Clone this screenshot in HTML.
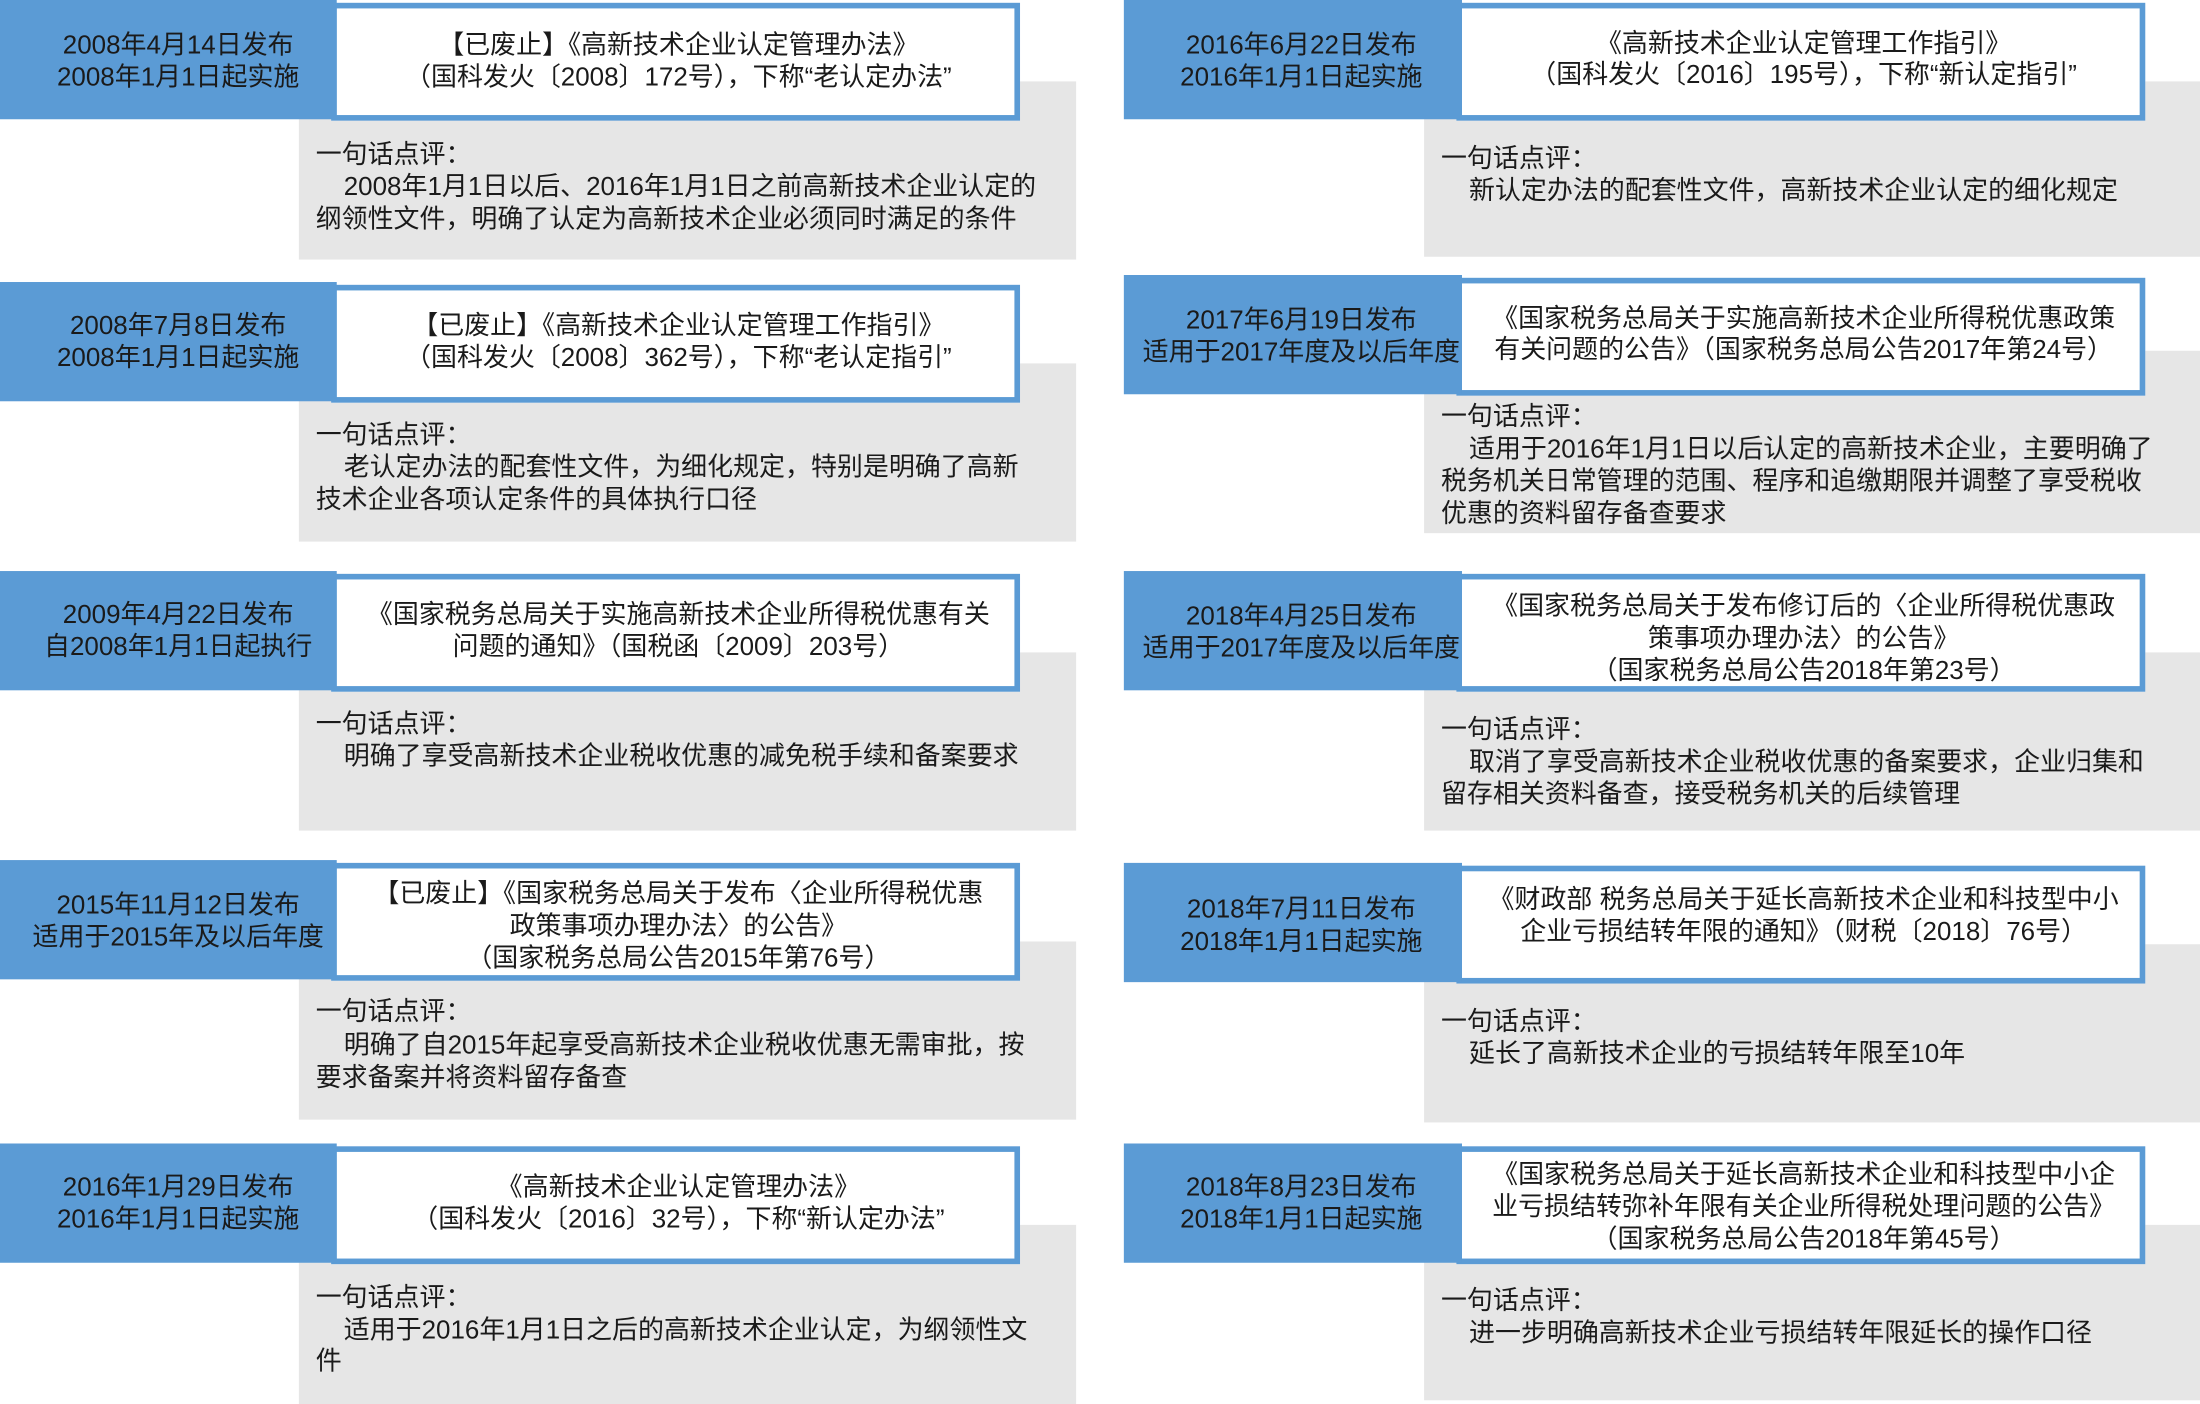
<!DOCTYPE html>
<html><head><meta charset="utf-8"><style>
html,body{margin:0;padding:0;background:#fff;width:2200px;height:1404px;overflow:hidden}
#s{position:absolute;left:0;top:0;width:1568px;height:1001px;transform:scale(1.40306);transform-origin:0 0;font-family:"Liberation Sans","Noto Sans CJK SC",sans-serif;color:#1a1a1a}
.b{position:absolute;background:#5b9bd5}
.g{position:absolute;background:#e6e6e6}
.w{position:absolute;background:#fff;border:4px solid #5b9bd5;box-sizing:border-box}
.t{position:absolute;white-space:nowrap;line-height:23px;height:23px;font-size:18.5px}
.cl{left:7px;width:240px;text-align:center}
.cr{left:807px;width:241px;text-align:center}
.tl{left:240px;width:487px;text-align:center}
.tr{left:1042px;width:487px;text-align:center}
.ml{left:225px}.mli{left:245px}
.mr{left:1027px}.mri{left:1047px}
</style></head><body><div id="s">
<!-- L1 -->
<div class="g" style="left:213px;top:58px;width:554px;height:127px"></div>
<div class="w" style="left:236px;top:2px;width:491px;height:84px"></div>
<div class="b" style="left:0;top:0;width:240px;height:85px"></div>
<div class="t cl" style="top:20px">2008年4月14日发布</div>
<div class="t cl" style="top:43px">2008年1月1日起实施</div>
<div class="t tl" style="top:20px">【已废止】《高新技术企业认定管理办法》</div>
<div class="t tl" style="top:43px">（国科发火〔2008〕172号），下称“老认定办法”</div>
<div class="t ml" style="top:98px">一句话点评：</div>
<div class="t mli" style="top:121px">2008年1月1日以后、2016年1月1日之前高新技术企业认定的</div>
<div class="t ml" style="top:144px">纲领性文件，明确了认定为高新技术企业必须同时满足的条件</div>
<!-- L2 -->
<div class="g" style="left:213px;top:259px;width:554px;height:127px"></div>
<div class="w" style="left:236px;top:203px;width:491px;height:84px"></div>
<div class="b" style="left:0;top:201px;width:240px;height:85px"></div>
<div class="t cl" style="top:220px">2008年7月8日发布</div>
<div class="t cl" style="top:243px">2008年1月1日起实施</div>
<div class="t tl" style="top:220px">【已废止】《高新技术企业认定管理工作指引》</div>
<div class="t tl" style="top:243px">（国科发火〔2008〕362号），下称“老认定指引”</div>
<div class="t ml" style="top:298px">一句话点评：</div>
<div class="t mli" style="top:321px">老认定办法的配套性文件，为细化规定，特别是明确了高新</div>
<div class="t ml" style="top:344px">技术企业各项认定条件的具体执行口径</div>
<!-- L3 -->
<div class="g" style="left:213px;top:465px;width:554px;height:127px"></div>
<div class="w" style="left:236px;top:409px;width:491px;height:84px"></div>
<div class="b" style="left:0;top:407px;width:240px;height:85px"></div>
<div class="t cl" style="top:426px">2009年4月22日发布</div>
<div class="t cl" style="top:449px">自2008年1月1日起执行</div>
<div class="t tl" style="top:426px">《国家税务总局关于实施高新技术企业所得税优惠有关</div>
<div class="t tl" style="top:449px">问题的通知》（国税函〔2009〕203号）</div>
<div class="t ml" style="top:504px">一句话点评：</div>
<div class="t mli" style="top:527px">明确了享受高新技术企业税收优惠的减免税手续和备案要求</div>
<!-- L4 -->
<div class="g" style="left:213px;top:671px;width:554px;height:127px"></div>
<div class="w" style="left:236px;top:615px;width:491px;height:84px"></div>
<div class="b" style="left:0;top:613px;width:240px;height:85px"></div>
<div class="t cl" style="top:633px">2015年11月12日发布</div>
<div class="t cl" style="top:656px">适用于2015年及以后年度</div>
<div class="t tl" style="top:625px">【已废止】《国家税务总局关于发布〈企业所得税优惠</div>
<div class="t tl" style="top:648px">政策事项办理办法〉的公告》</div>
<div class="t tl" style="top:671px">（国家税务总局公告2015年第76号）</div>
<div class="t ml" style="top:709px">一句话点评：</div>
<div class="t mli" style="top:733px">明确了自2015年起享受高新技术企业税收优惠无需审批，按</div>
<div class="t ml" style="top:756px">要求备案并将资料留存备查</div>
<!-- L5 -->
<div class="g" style="left:213px;top:873px;width:554px;height:128px"></div>
<div class="w" style="left:236px;top:817px;width:491px;height:84px"></div>
<div class="b" style="left:0;top:815px;width:240px;height:85px"></div>
<div class="t cl" style="top:834px">2016年1月29日发布</div>
<div class="t cl" style="top:857px">2016年1月1日起实施</div>
<div class="t tl" style="top:834px">《高新技术企业认定管理办法》</div>
<div class="t tl" style="top:857px">（国科发火〔2016〕32号），下称“新认定办法”</div>
<div class="t ml" style="top:913px">一句话点评：</div>
<div class="t mli" style="top:936px">适用于2016年1月1日之后的高新技术企业认定，为纲领性文</div>
<div class="t ml" style="top:958px">件</div>
<!-- R1 -->
<div class="g" style="left:1015px;top:58px;width:553px;height:125px"></div>
<div class="w" style="left:1038px;top:2px;width:491px;height:84px"></div>
<div class="b" style="left:801px;top:0;width:241px;height:85px"></div>
<div class="t cr" style="top:20px">2016年6月22日发布</div>
<div class="t cr" style="top:43px">2016年1月1日起实施</div>
<div class="t tr" style="top:19px">《高新技术企业认定管理工作指引》</div>
<div class="t tr" style="top:41px">（国科发火〔2016〕195号），下称“新认定指引”</div>
<div class="t mr" style="top:101px">一句话点评：</div>
<div class="t mri" style="top:124px">新认定办法的配套性文件，高新技术企业认定的细化规定</div>
<!-- R2 -->
<div class="g" style="left:1015px;top:250px;width:553px;height:130px"></div>
<div class="w" style="left:1038px;top:198px;width:491px;height:84px"></div>
<div class="b" style="left:801px;top:196px;width:241px;height:85px"></div>
<div class="t cr" style="top:216px">2017年6月19日发布</div>
<div class="t cr" style="top:239px">适用于2017年度及以后年度</div>
<div class="t tr" style="top:215px">《国家税务总局关于实施高新技术企业所得税优惠政策</div>
<div class="t tr" style="top:237px">有关问题的公告》（国家税务总局公告2017年第24号）</div>
<div class="t mr" style="top:285px">一句话点评：</div>
<div class="t mri" style="top:308px">适用于2016年1月1日以后认定的高新技术企业，主要明确了</div>
<div class="t mr" style="top:331px">税务机关日常管理的范围、程序和追缴期限并调整了享受税收</div>
<div class="t mr" style="top:354px">优惠的资料留存备查要求</div>
<!-- R3 -->
<div class="g" style="left:1015px;top:465px;width:553px;height:127px"></div>
<div class="w" style="left:1038px;top:409px;width:491px;height:84px"></div>
<div class="b" style="left:801px;top:407px;width:241px;height:85px"></div>
<div class="t cr" style="top:427px">2018年4月25日发布</div>
<div class="t cr" style="top:450px">适用于2017年度及以后年度</div>
<div class="t tr" style="top:420px">《国家税务总局关于发布修订后的〈企业所得税优惠政</div>
<div class="t tr" style="top:443px">策事项办理办法〉的公告》</div>
<div class="t tr" style="top:466px">（国家税务总局公告2018年第23号）</div>
<div class="t mr" style="top:508px">一句话点评：</div>
<div class="t mri" style="top:531px">取消了享受高新技术企业税收优惠的备案要求，企业归集和</div>
<div class="t mr" style="top:554px">留存相关资料备查，接受税务机关的后续管理</div>
<!-- R4 -->
<div class="g" style="left:1015px;top:673px;width:553px;height:127px"></div>
<div class="w" style="left:1038px;top:617px;width:491px;height:84px"></div>
<div class="b" style="left:801px;top:615px;width:241px;height:85px"></div>
<div class="t cr" style="top:636px">2018年7月11日发布</div>
<div class="t cr" style="top:659px">2018年1月1日起实施</div>
<div class="t tr" style="top:629px">《财政部 税务总局关于延长高新技术企业和科技型中小</div>
<div class="t tr" style="top:652px">企业亏损结转年限的通知》（财税〔2018〕76号）</div>
<div class="t mr" style="top:716px">一句话点评：</div>
<div class="t mri" style="top:739px">延长了高新技术企业的亏损结转年限至10年</div>
<!-- R5 -->
<div class="g" style="left:1015px;top:873px;width:553px;height:125px"></div>
<div class="w" style="left:1038px;top:817px;width:491px;height:84px"></div>
<div class="b" style="left:801px;top:815px;width:241px;height:85px"></div>
<div class="t cr" style="top:834px">2018年8月23日发布</div>
<div class="t cr" style="top:857px">2018年1月1日起实施</div>
<div class="t tr" style="top:825px">《国家税务总局关于延长高新技术企业和科技型中小企</div>
<div class="t tr" style="top:848px">业亏损结转弥补年限有关企业所得税处理问题的公告》</div>
<div class="t tr" style="top:871px">（国家税务总局公告2018年第45号）</div>
<div class="t mr" style="top:915px">一句话点评：</div>
<div class="t mri" style="top:938px">进一步明确高新技术企业亏损结转年限延长的操作口径</div>
</div></body></html>
